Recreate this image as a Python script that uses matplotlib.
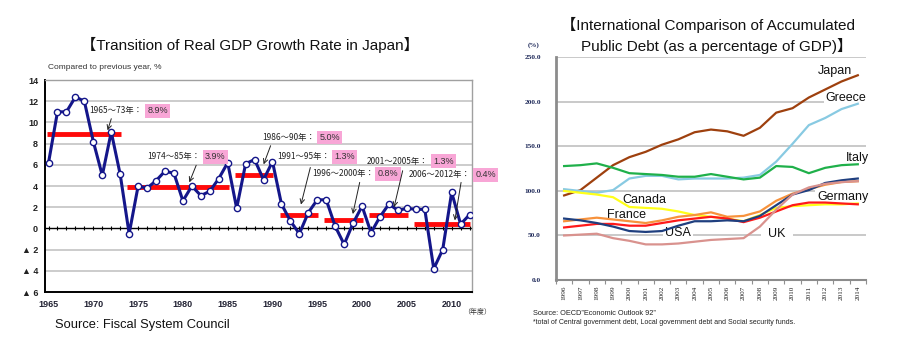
import matplotlib
matplotlib.use("Agg")
import matplotlib.pyplot as plt
import numpy as np

# ---------------- data ----------------
gdp_years = list(range(1965, 2013))
gdp_growth = [6.2, 11.0, 11.0, 12.4, 12.0, 8.2, 5.0, 9.1, 5.1, -0.5,
              4.0, 3.8, 4.5, 5.4, 5.2, 2.6, 4.0, 3.1, 3.5, 4.7,
              6.2, 1.9, 6.1, 6.5, 4.6, 6.3, 2.3, 0.7, -0.5, 1.5,
              2.7, 2.7, 0.2, -1.5, 0.5, 2.1, -0.4, 1.1, 2.3, 1.7,
              1.9, 1.8, 1.8, -3.8, -2.0, 3.4, 0.4, 1.3]

period_labels = ["1965～73年：", "1974～85年：", "1986～90年：", "1991～95年：",
                 "1996～2000年：", "2001～2005年：", "2006～2012年："]
period_start = [1965, 1974, 1986, 1991, 1996, 2001, 2006]
period_end = [1973, 1985, 1990, 1995, 2000, 2005, 2012]
period_avg = [8.9, 3.9, 5.0, 1.3, 0.8, 1.3, 0.4]
period_avg_text = ["8.9%", "3.9%", "5.0%", "1.3%", "0.8%", "1.3%", "0.4%"]

gdp_yticks = [14, 12, 10, 8, 6, 4, 2, 0, -2, -4, -6]
gdp_yticklabels = ["14", "12", "10", "8", "6", "4", "2", "0", "▲ 2", "▲ 4", "▲ 6"]
gdp_xticks = [1965, 1970, 1975, 1980, 1985, 1990, 1995, 2000, 2005, 2010]

debt_years = ["1996", "1997", "1998", "1999", "2000", "2001", "2002", "2003", "2004", "2005",
              "2006", "2007", "2008", "2009", "2010", "2011", "2012", "2013", "2014"]
japan = [95, 101, 115, 129, 138, 144, 152, 158, 166, 169, 167, 162, 171, 188, 193, 205, 214, 223, 230]
greece = [102, 100, 98, 101, 114, 117, 117, 113, 114, 114, 114, 115, 118, 133, 153, 174, 182, 192, 198]
italy = [128, 129, 131, 126, 120, 119, 118, 116, 116, 119, 116, 113, 115, 128, 127, 120, 126, 129, 130]
canada = [100, 98, 96, 93, 82, 81, 80, 77, 73, 71, 69, 66, 73, 81, 83, 84, 85, 85, 86]
france = [66, 68, 70, 68, 66, 64, 67, 71, 73, 76, 71, 72, 77, 89, 97, 102, 107, 110, 111]
usa = [69, 67, 64, 60, 55, 54, 55, 61, 66, 66, 67, 66, 72, 84, 96, 101, 109, 112, 114]
germany = [59, 61, 63, 63, 61, 61, 64, 67, 69, 71, 69, 65, 70, 77, 84, 87, 87, 86, 85]
uk = [50, 51, 52, 47, 44, 40, 40, 41, 43, 45, 46, 47, 60, 79, 96, 104, 108, 110, 111]

debt_series = [("Japan", japan, "#9e400e"), ("Greece", greece, "#88cae2"),
               ("Italy", italy, "#1fb04a"), ("Canada", canada, "#ffff1a"),
               ("France", france, "#f7923c"), ("Germany", germany, "#ff1a1a"),
               ("USA", usa, "#1f3f7f"), ("UK", uk, "#d9928e")]
debt_yticks = [0, 50, 100, 150, 200, 250]

plt.rcParams['font.family'] = ['Liberation Sans', 'Noto Sans CJK JP', 'DejaVu Sans']

fig = plt.figure(figsize=(8.97, 3.51), dpi=100)

# ---------------- left chart ----------------
ax = fig.add_axes([0.0502, 0.168, 0.476, 0.604])
ax.set_xlim(1964.61, 2012.27)
ax.set_ylim(-6, 14)
for y in gdp_yticks:
    if y not in (0, -6, 14):
        ax.axhline(y, color="#c4c4c4", lw=1.2, zorder=1)
ax.axhline(0, color="black", lw=1.0, zorder=2)
ax.plot(gdp_years, [0] * len(gdp_years), ls="none", marker="|", ms=3, mew=0.8,
        color="black", zorder=2)
for s, e, v in zip(period_start, period_end, period_avg):
    ax.plot([s - 0.2, e + 0.1], [v, v], color="#ff0a0a", lw=3.5, zorder=3,
            solid_capstyle="butt")
ax.plot(gdp_years, gdp_growth, color="#14168a", lw=2.2, marker="o", ms=4.5,
        mfc="white", mec="#14168a", mew=1.0, zorder=4)

ax.set_yticks(gdp_yticks)
ax.set_yticklabels(gdp_yticklabels, fontsize=6.5, fontweight="bold",
                   family=["Liberation Sans", "DejaVu Sans"], color="#222222")
ax.set_xticks(gdp_xticks)
ax.set_xticklabels([str(x) for x in gdp_xticks], fontsize=6.5, fontweight="bold",
                   color="#222233")
ax.tick_params(axis="both", length=0)
ax.tick_params(axis="y", pad=5)
ax.tick_params(axis="x", pad=6)
for sp in ("top", "right"):
    ax.spines[sp].set_color("#a0a0a0")
    ax.spines[sp].set_linewidth(1.0)
for sp in ("left", "bottom"):
    ax.spines[sp].set_color("black")
    ax.spines[sp].set_linewidth(1.4)

# annotations (label x, label y, pink box x, arrow start, arrow end)
ann_lab = [(1969.6, 11.1, 1977.2), (1976.0, 6.75, 1983.6), (1988.8, 8.6, 1996.4),
           (1990.5, 6.75, 1998.0), (1994.4, 5.15, 2002.9), (2000.5, 6.35, 2009.1),
           (2005.2, 5.05, 2013.8)]
ann_arrow = [((1972.1, 10.6), (1971.5, 9.0)), ((1981.6, 6.2), (1980.6, 4.1)),
             ((1989.9, 8.05), (1988.9, 5.8)), ((1994.3, 6.0), (1993.1, 2.0)),
             ((1999.8, 4.6), (1998.9, 1.1)), ((2004.6, 5.7), (2003.5, 1.75)),
             ((2011.1, 4.6), (2010.3, 0.5))]
for lab, pct, (lx, ly, px), (a0, a1) in zip(period_labels, period_avg_text, ann_lab, ann_arrow):
    ax.text(lx, ly, lab, fontsize=6, family=["Noto Sans CJK JP"], ha="left",
            va="center", color="#222222", zorder=6)
    ax.text(px, ly, pct, fontsize=6.5, ha="center", va="center", color="#333333",
            bbox=dict(boxstyle="square,pad=0.25", fc="#f8a6d6", ec="none"),
            zorder=6, clip_on=False)
    ax.annotate("", xy=a1, xytext=a0,
                arrowprops=dict(arrowstyle="->", color="#222222", lw=0.7,
                                mutation_scale=8), zorder=6)

fig.text(0.2787, 0.872, "【Transition of Real GDP Growth Rate in Japan】", fontsize=11,
         ha="center", va="center", color="#111111")
fig.text(0.0535, 0.809, "Compared to previous year, %", fontsize=6, ha="left",
         va="center", color="#333333")
fig.text(0.516, 0.111, "（年度）", fontsize=5, ha="left", va="center",
         family=["Noto Sans CJK JP"], color="#333333")
fig.text(0.0613, 0.074, "Source: Fiscal System Council", fontsize=9.3, ha="left",
         va="center", color="#111111")

# ---------------- right chart ----------------
bx = fig.add_axes([0.6198, 0.2023, 0.3456, 0.634])
n = len(debt_years)
xs = np.arange(n)
bx.set_xlim(-0.5, n - 0.5)
bx.set_ylim(0, 250)
for y in debt_yticks[1:]:
    bx.axhline(y, color="#c0c0c0", lw=1.2, zorder=1)
for name, vals, col in debt_series:
    bx.plot(xs, vals, color=col, lw=1.6, zorder=3)

label_pos = {"Japan": (15.55, 235), "Greece": (16.04, 204), "Italy": (17.27, 137),
             "Canada": (3.55, 89.5), "France": (2.63, 73), "USA": (6.18, 53),
             "Germany": (15.5, 93.5), "UK": (12.5, 52)}
for name, vals, col in debt_series:
    lx, ly = label_pos[name]
    pad = 0.6 if name == "UK" else 0.15
    bx.text(lx, ly, name, fontsize=9, ha="left", va="center", color="#111111",
            bbox=dict(boxstyle="square,pad=%s" % pad, fc="white", ec="none"), zorder=2)

bx.set_yticks(debt_yticks)
bx.set_yticklabels(["%.1f" % v for v in debt_yticks], fontsize=5.3, fontweight="bold",
                   family=["Liberation Serif"], color="#1f2a5a")
bx.tick_params(axis="y", length=0, pad=11)
bx.set_xticks(xs)
bx.set_xticklabels(debt_years, rotation=90, fontsize=5.2, family=["Liberation Serif"],
                   color="#222222")
bx.set_xticks(np.arange(n + 1) - 0.5, minor=True)
bx.tick_params(axis="x", which="major", length=0, pad=4)
bx.tick_params(axis="x", which="minor", length=3, color="#909090", width=0.8)
for sp in ("top", "right"):
    bx.spines[sp].set_visible(False)
bx.spines["left"].set_color("#8c8c8c")
bx.spines["left"].set_linewidth(2.0)
bx.spines["bottom"].set_color("#8c8c8c")
bx.spines["bottom"].set_linewidth(1.5)

fig.text(0.7893, 0.930, "【International Comparison of Accumulated", fontsize=11,
         ha="center", va="center", color="#111111")
fig.text(0.7993, 0.868, "Public Debt (as a percentage of GDP)】", fontsize=11,
         ha="center", va="center", color="#111111")
fig.text(0.595, 0.872, "(%)", fontsize=5, ha="center", va="center",
         fontweight="bold", family=["Liberation Serif"], color="#1f2a5a")
fig.text(0.594, 0.108, "Source: OECD”Economic Outlook 92”", fontsize=5.3,
         ha="left", va="center", color="#222222")
fig.text(0.594, 0.080, "*total of Central government debt, Local government debt and Social security funds.",
         fontsize=5, ha="left", va="center", color="#222222")

fig.savefig("out.png", dpi=100)
